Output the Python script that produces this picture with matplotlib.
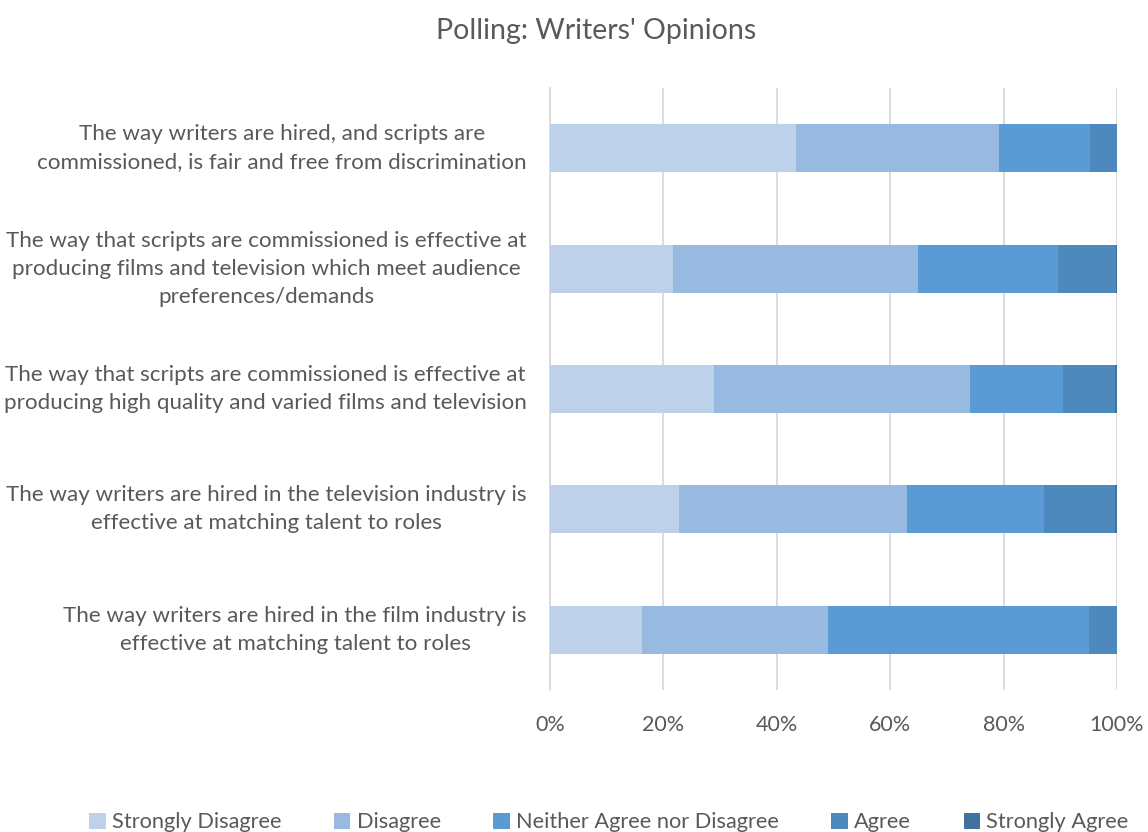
import matplotlib
matplotlib.use("Agg")
import matplotlib.pyplot as plt
import numpy as np
from matplotlib.ticker import PercentFormatter

plt.rcParams["font.family"] = ["Lato", "DejaVu Sans"]

statements = [
    "The way writers are hired in the film industry is\neffective at matching talent to roles",
    "The way writers are hired in the television industry is\neffective at matching talent to roles",
    "The way that scripts are commissioned is effective at\nproducing high quality and varied films and television",
    "The way that scripts are commissioned is effective at\nproducing films and television which meet audience\npreferences/demands",
    "The way writers are hired, and scripts are\ncommissioned, is fair and free from discrimination",
]
responses = ["Strongly Disagree", "Disagree", "Neither Agree nor Disagree",
             "Agree", "Strongly Agree"]

strongly_disagree = [16.2, 22.8, 28.9, 21.7, 43.4]
disagree = [32.8, 40.2, 45.2, 43.2, 35.8]
neither = [46.1, 24.1, 16.4, 24.7, 16.0]
agree = [4.9, 12.6, 9.1, 10.2, 4.8]
strongly_agree = [0.0, 0.3, 0.4, 0.2, 0.0]

colors = ["#BDD1EA", "#98B9E0", "#5B9BD5", "#4E89BE", "#41719C"]
text_col = "#595959"

fig = plt.figure(figsize=(11.48, 8.32), dpi=100)
ax = fig.add_axes([0.479, 0.171, 0.494, 0.723])

y = np.arange(len(statements))
left = np.zeros(len(statements))
for name, vals, c in zip(responses,
                         [strongly_disagree, disagree, neither, agree, strongly_agree],
                         colors):
    ax.barh(y, vals, left=left, height=0.4, color=c, label=name, zorder=3)
    left += np.array(vals)

ax.set_xlim(0, 100)
ax.set_ylim(-0.5, 4.5)
ax.set_xticks(np.arange(0, 101, 20))
ax.xaxis.set_major_formatter(PercentFormatter(decimals=0))
ax.set_yticks(y)
ax.set_yticklabels(statements, ha="right", va="center", ma="center",
                   fontsize=16.1, color=text_col, linespacing=1.5)
ax.tick_params(axis="y", length=0, pad=16.5)
ax.tick_params(axis="x", length=0, pad=18, labelsize=15.5, labelcolor=text_col)
ax.grid(axis="x", color="#D9D9D9", linewidth=1.3, zorder=0)
for s in ["top", "right", "bottom"]:
    ax.spines[s].set_visible(False)
ax.spines["left"].set_color("#D9D9D9")
ax.spines["left"].set_linewidth(1.3)

fig.text(0.519, 0.963, "Polling: Writers' Opinions", ha="center", va="center",
         fontsize=20.5, color=text_col)

fig.legend(loc="lower center", bbox_to_anchor=(0.5305, -0.024), ncol=5,
           frameon=False, fontsize=15.7, labelcolor=text_col,
           handlelength=0.75, handleheight=0.75, handletextpad=0.3,
           columnspacing=2.4)

fig.savefig("out.png", dpi=100)
